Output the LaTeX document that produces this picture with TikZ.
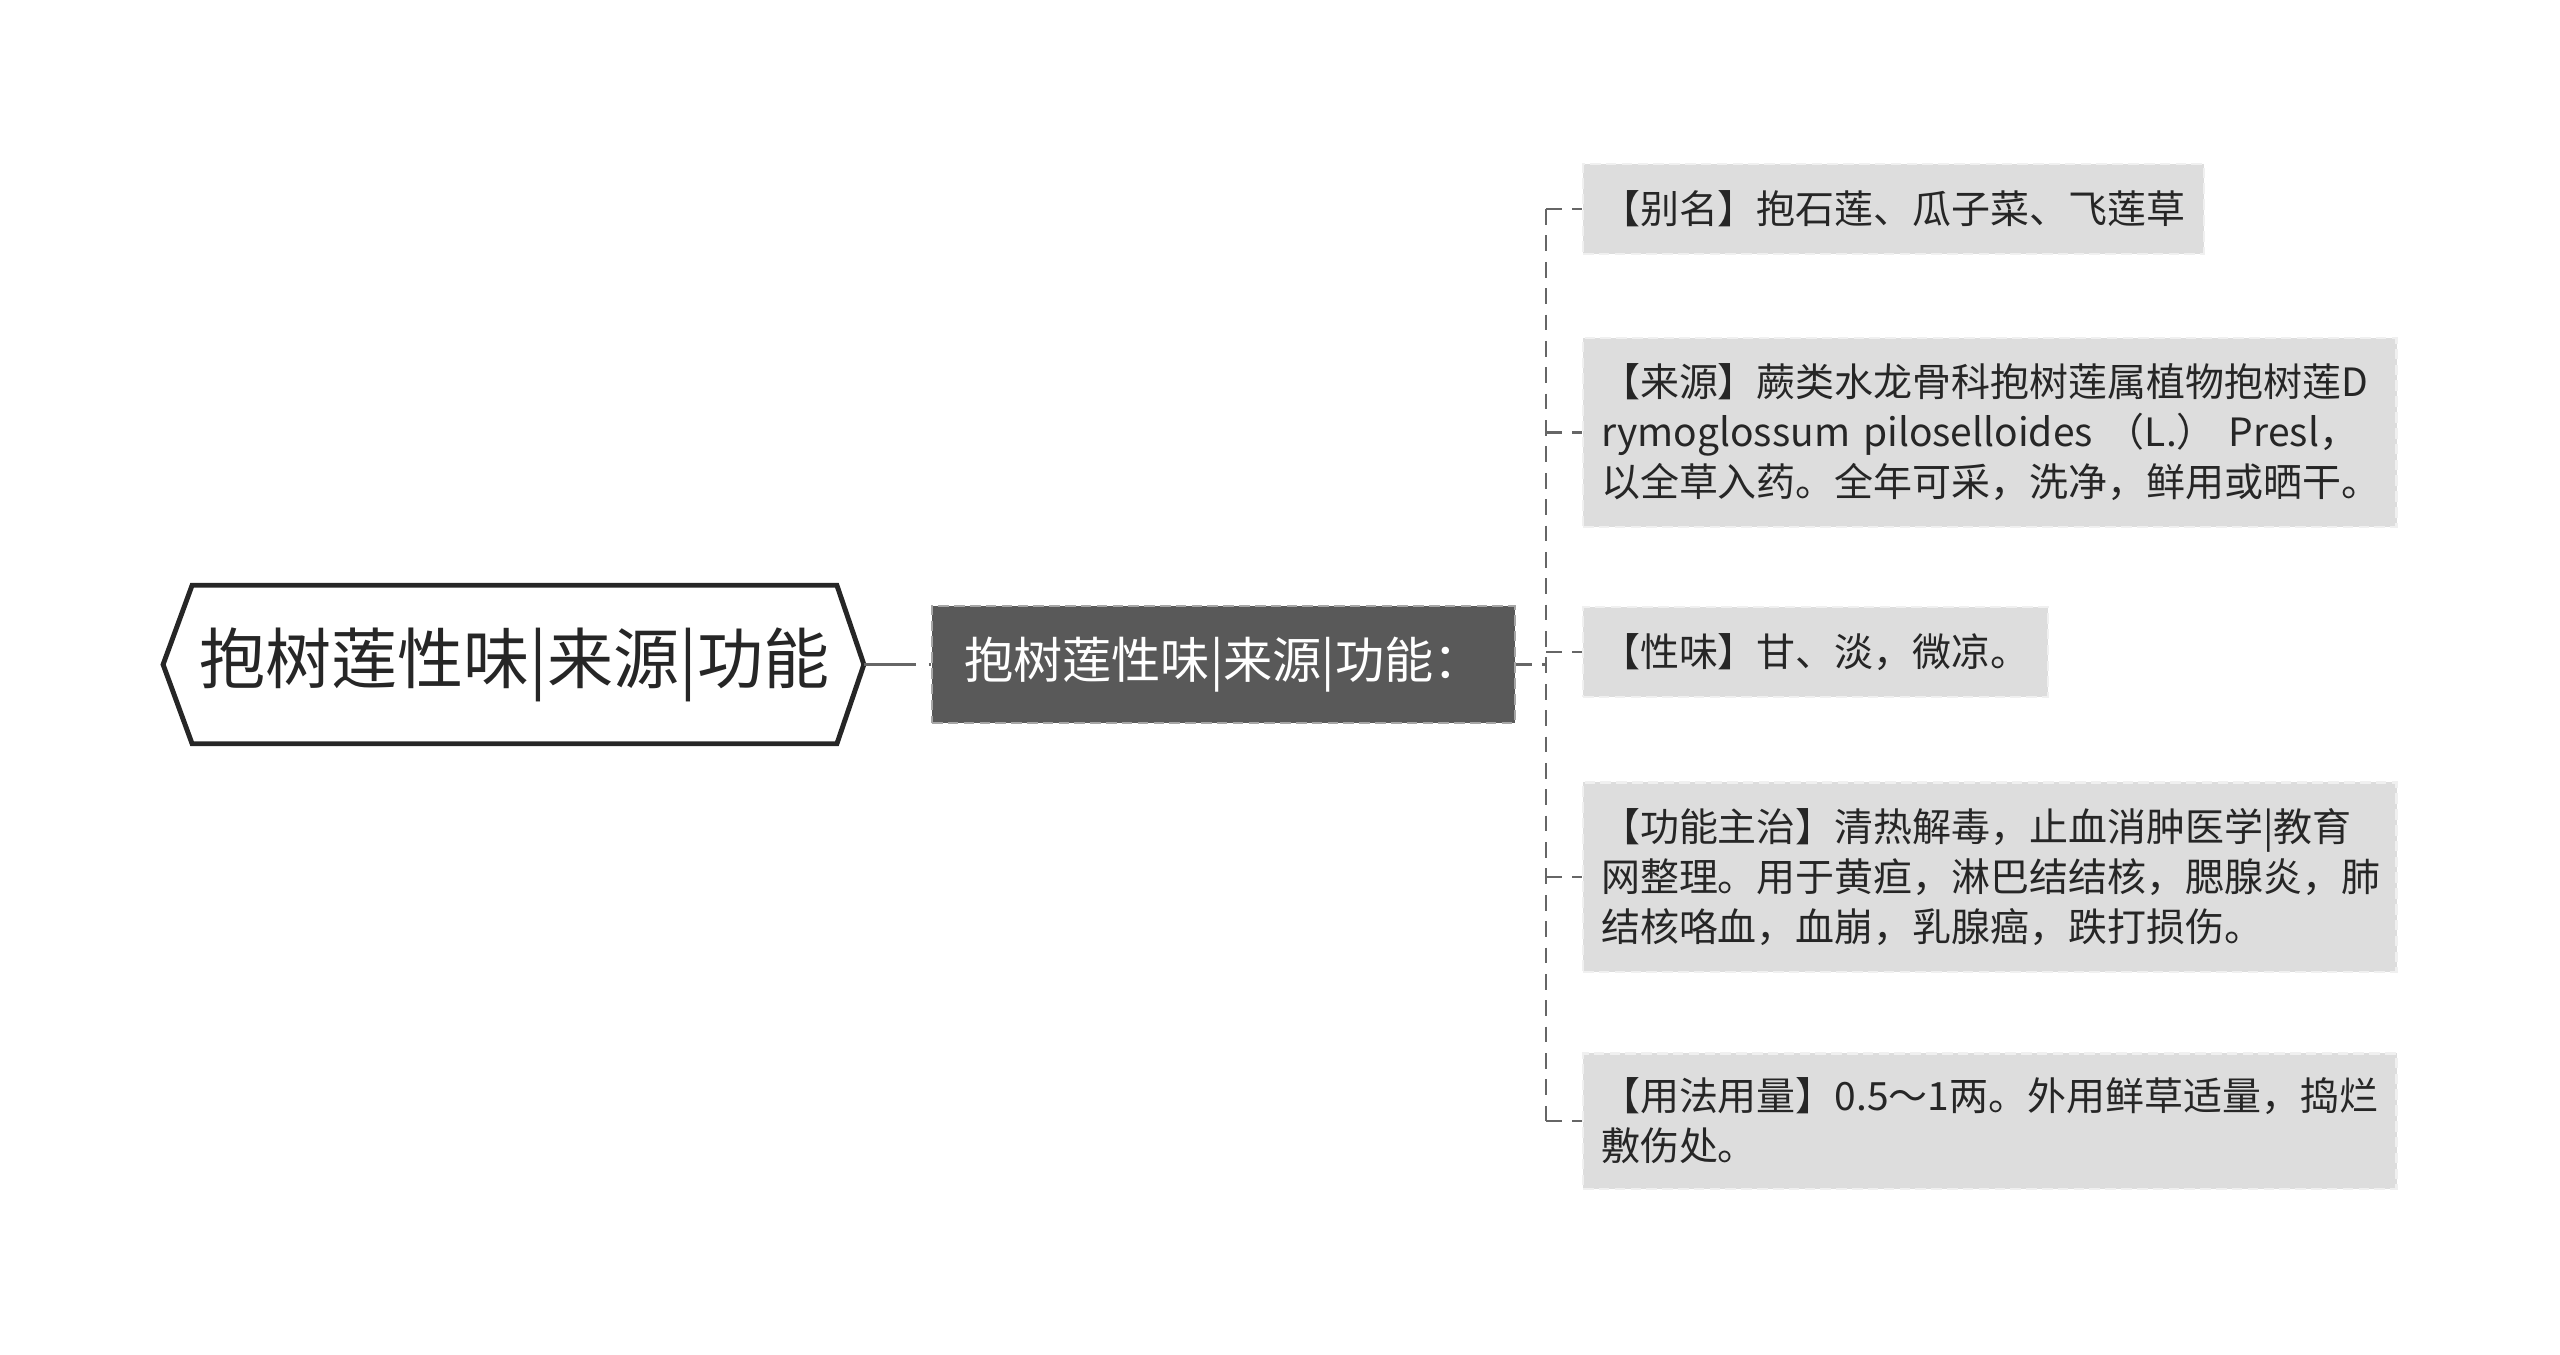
\documentclass[tikz,border=0pt]{standalone}
\usepackage{fontspec}
\setmainfont{Noto Sans CJK SC}
\usetikzlibrary{positioning}
\definecolor{midgray}{HTML}{595959}
\definecolor{leafgray}{HTML}{DDDDDD}
\definecolor{linegray}{HTML}{666666}
\definecolor{textgray}{HTML}{262626}
\tikzset{
	rootnode/.style={rectangle, minimum width=6.43cm, minimum height=1.57cm, inner sep=0pt, font=\fontsize{18.8}{22}\selectfont, text=textgray},
	rootline/.style={draw=textgray, line width=1.4pt, line join=miter},
	midnode/.style={rectangle, draw=gray!70, dash pattern=on 3pt off 1.5pt, line width=0.6pt, fill=midgray, text=white, minimum width=5.75cm, minimum height=1.17cm, inner xsep=0.32cm, font=\fontsize{14}{17}\selectfont},
	leafnode/.style={rectangle, draw=leafgray!45!white, dash pattern=on 3pt off 1.5pt, line width=0.6pt, fill=leafgray, text=textgray, anchor=west, inner xsep=0.18cm, minimum height=0.9cm, align=left, font=\fontsize{11.08}{14.2}\selectfont},
	wideleaf/.style={leafnode, text width=7.77cm},
	mydashed/.style={draw=linegray, line width=0.6pt, dash pattern=on 4.5pt off 3pt}
}
\begin{document}
\begin{tikzpicture}[x=0.01cm, y=-0.01cm]
		\useasboundingbox (0,0) rectangle (2560,1354);
		
		\node[rootnode] at (514.5,664.5) (root) {抱树莲性味|来源|功能};
		\draw[rootline] ([xshift=-0.29cm]root.west) -- (root.north west) -- (root.north east) -- ([xshift=0.27cm]root.east) -- (root.south east) -- (root.south west) -- cycle;
		\coordinate (roottip) at ([xshift=0.27cm]root.east);
		\node[midnode] at (1223.5,664.5) (mid) {抱树莲性味|来源|功能：};
		
		\node[leafnode] at (1582,209) (alias) {【别名】抱石莲、瓜子菜、飞莲草};
		\node[wideleaf, minimum height=1.89cm] at (1582,432.5) (source) {【来源】蕨类水龙骨科抱树莲属植物抱树莲D\\rymoglossum piloselloides （L.） Presl，\\以全草入药。全年可采，洗净，鲜用或晒干。};
		\node[leafnode] at (1582,652) (taste) {【性味】甘、淡，微凉。};
		\node[wideleaf, minimum height=1.89cm] at (1582,877) (usage) {【功能主治】清热解毒，止血消肿医学|教育\\网整理。用于黄疸，淋巴结结核，腮腺炎，肺\\结核咯血，血崩，乳腺癌，跌打损伤。};
		\node[wideleaf, minimum height=1.35cm] at (1582,1121) (dose) {【用法用量】0.5～1两。外用鲜草适量，捣烂\\敷伤处。};
		
		\coordinate (fork) at (1546,664.5);
		\draw[draw=linegray, line width=1pt, dash pattern=on 14.8pt off 3.7pt on 3pt off 3pt] (roottip) -- (mid.west);
		\draw[mydashed] (mid.east) -- (fork);
		\draw[mydashed] (fork |- alias.west) -- (fork |- dose.west);
		\foreach \leaf in {alias,source,taste,usage,dose}
			\draw[mydashed] (fork |- \leaf.west) -- (\leaf.west);
	\end{tikzpicture}
\end{document}
